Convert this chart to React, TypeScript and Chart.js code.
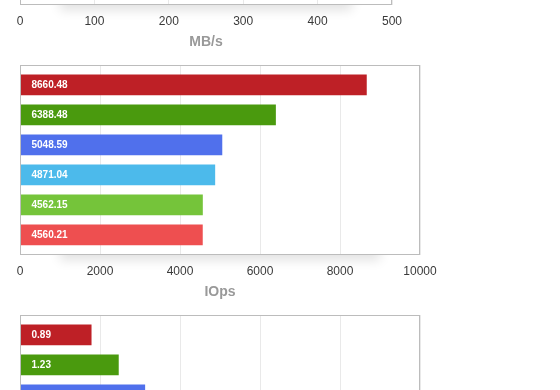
import React, { useEffect, useRef } from "react";
import { Chart, registerables } from "chart.js";

Chart.register(...registerables);

const FONT = "'Liberation Sans', Arial, Helvetica, sans-serif";

// Bar colours, one per run (top to bottom)
const barColors = ["#be2026", "#4a9a0e", "#5070ec", "#4cbaeb", "#75c43a", "#ee4f50"];

// Top panel (MB/s) - its bars lie above the visible area
const mbpsValues: number[] = [];
const mbpsTicks = [0, 100, 200, 300, 400, 500];

// Middle panel (IOps)
const iopsValues = [8660.48, 6388.48, 5048.59, 4871.04, 4562.15, 4560.21];
const iopsTicks = [0, 2000, 4000, 6000, 8000, 10000];

// Bottom panel - only the first bars are visible
const latencyValues = [0.89, 1.23, 1.56];
const latencyTicks = [0, 1, 2, 3, 4, 5];

const framePlugin = {
  id: "frameBox",
  beforeDraw(chart: any) {
    const { ctx, chartArea: a } = chart;
    ctx.save();
    ctx.shadowColor = "rgba(0,0,0,0.12)";
    ctx.shadowBlur = 12;
    ctx.shadowOffsetY = 5;
    ctx.fillStyle = "#fff";
    ctx.fillRect(a.left + 40, a.bottom - 30, a.width - 80, 30);
    ctx.restore();
    ctx.save();
    ctx.fillStyle = "#fff";
    ctx.fillRect(a.left, a.top, a.width, a.height);
    ctx.restore();
  },
  afterDraw(chart: any) {
    const { ctx, chartArea: a } = chart;
    const l = Math.round(a.left) + 0.5;
    const t = Math.round(a.top) + 0.5;
    const r = Math.round(a.right) - 0.5;
    const b = Math.round(a.bottom) - 0.5;
    ctx.save();
    ctx.strokeStyle = "#bcbcbc";
    ctx.lineWidth = 1;
    ctx.strokeRect(l, t, r - l, b - t);
    ctx.restore();
  },
};

const valueLabelPlugin = {
  id: "valueLabels",
  afterDatasetsDraw(chart: any) {
    const { ctx } = chart;
    const meta = chart.getDatasetMeta(0);
    const data = chart.data.datasets[0].data as any[];
    ctx.save();
    ctx.fillStyle = "#ffffff";
    ctx.font = `bold 10px ${FONT}`;
    ctx.textAlign = "left";
    ctx.textBaseline = "middle";
    meta.data.forEach((bar: any, i: number) => {
      const { y, base } = bar.getProps(["y", "base"], true);
      ctx.fillText(Number(data[i].x).toFixed(2), base + 11, y + 0.5);
    });
    ctx.restore();
  },
};

type PanelProps = {
  top: number;
  values: number[];
  ticks: number[];
  title: string;
  rightPad: number;
};

function BarPanel({ top, values, ticks, title, rightPad }: PanelProps) {
  const ref = useRef<HTMLCanvasElement>(null);
  useEffect(() => {
    const hasTitle = title !== "";
    const chart = new Chart(ref.current as HTMLCanvasElement, {
      type: "bar",
      data: {
        datasets: [
          {
            data: values.map((v, i) => ({ x: v, y: i })) as any,
            backgroundColor: barColors,
            barThickness: 20,
          },
        ],
      },
      options: {
        indexAxis: "y",
        responsive: false,
        animation: false,
        layout: {
          padding: { left: 20, right: rightPad, top: 15, bottom: hasTitle ? 5.8 : 22.6 },
        },
        plugins: { legend: { display: false }, tooltip: { enabled: false } },
        scales: {
          x: {
            type: "linear",
            min: ticks[0],
            max: ticks[ticks.length - 1],
            afterBuildTicks: (s: any) => {
              s.ticks = ticks.map((v) => ({ value: v }));
            },
            grid: { color: "#e9e9e9", drawTicks: false },
            border: { display: false },
            ticks: {
              padding: 9,
              color: "#3a3a3a",
              font: { family: FONT, size: 12 },
              callback: (v: any) => String(v),
            },
            title: {
              display: hasTitle,
              text: title,
              color: "#999999",
              padding: { top: -4, bottom: 4 },
              font: { family: FONT, size: 14, weight: "bold" },
            },
          },
          y: {
            type: "linear",
            display: false,
            offset: false,
            grid: { offset: false },
            reverse: true,
            min: -0.66,
            max: 5.67,
          },
        },
      } as any,
      plugins: [framePlugin, valueLabelPlugin],
    });
    return () => chart.destroy();
  }, []);
  return (
    <canvas
      ref={ref}
      width={560}
      height={260}
      style={{ position: "absolute", left: 0, top, width: 560, height: 260 }}
    />
  );
}

export default function App() {
  return (
    <div
      style={{
        position: "fixed",
        left: 0,
        top: 0,
        width: 560,
        height: 390,
        overflow: "hidden",
        background: "#ffffff",
      }}
    >
      <BarPanel top={-200} values={mbpsValues} ticks={mbpsTicks} title="MB/s" rightPad={168} />
      <BarPanel top={50} values={iopsValues} ticks={iopsTicks} title="IOps" rightPad={140} />
      <BarPanel top={300} values={latencyValues} ticks={latencyTicks} title="" rightPad={140} />
    </div>
  );
}
